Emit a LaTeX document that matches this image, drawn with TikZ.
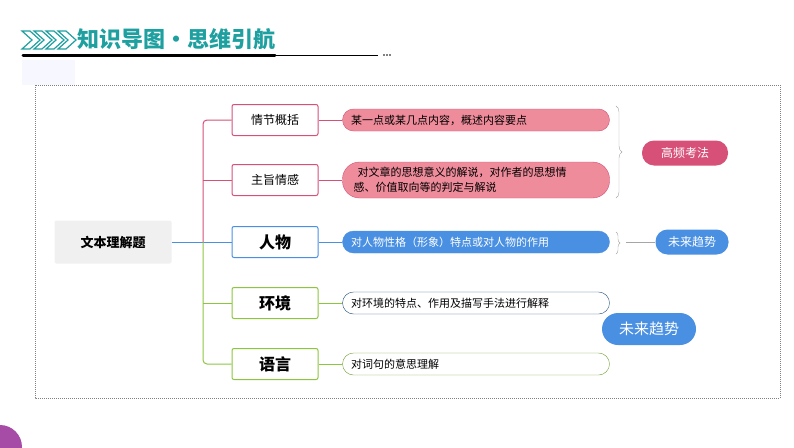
\documentclass[tikz,border=0pt]{standalone}
\usepackage{fontspec}
\setmainfont{Noto Sans CJK SC}
\usetikzlibrary{decorations.pathreplacing}
\definecolor{teal1}{HTML}{1FA0A0}
\definecolor{pinkline}{HTML}{D65078}
\definecolor{pinkfill}{HTML}{EE8C9B}
\definecolor{blueline}{HTML}{4A90E2}
\definecolor{greenline}{HTML}{8CC63F}
\definecolor{navyline}{HTML}{1F4E79}
\tikzset{
  branch/.style={draw=#1,line width=1pt,fill=white,rounded corners=2pt,minimum width=86pt,minimum height=31pt,font=\fontsize{12}{14}\selectfont},
  bigbranch/.style={branch=#1,font=\fontsize{16}{18}\selectfont\bfseries},
  pill/.style={rounded corners=11pt,minimum width=267pt,minimum height=22pt,text width=250pt,align=left,font=\fontsize{11}{15}\selectfont,inner sep=2pt},
  tag/.style={rounded corners=12pt,text=white,font=\fontsize{12}{14}\selectfont,minimum height=25pt},
}
\begin{document}
\begin{tikzpicture}[x=1pt,y=-1pt]
\useasboundingbox (0,0) rectangle (794,447);
% header
\foreach \i in {0,12,24,36} \draw[teal1,line width=1.2pt] (22+\i,31) -- (32+\i,40) -- (22+\i,49) -- (30+\i,49) -- (40+\i,40) -- (30+\i,31) -- cycle;
\node[anchor=west,text=teal1,font=\fontsize{22}{24}\selectfont\bfseries,inner sep=0pt] (title) at (77,39) {知识导图·思维引航};
\draw[line width=3pt,line cap=round] (23,55) -- (275,55);
\draw[line width=0.5pt] (275,55) -- (378,55);
\foreach \i in {0,3,6} \fill (384+\i,55) circle (0.9pt);
\fill[blue!3] (22,60) rectangle (75,85);
\fill[violet!70] (0,447) circle (22pt);
% frame
\draw[gray,dash pattern=on 1pt off 1pt] (35,85) rectangle (780,398);
% root
\node[fill=gray!12,rounded corners=2pt,minimum width=117pt,minimum height=43pt,font=\fontsize{13}{15}\selectfont\bfseries] (root) at (113,242) {文本理解题};
% branches
\node[branch=pinkline] (plot) at (275,120) {情节概括};
\node[branch=pinkline] (theme) at (275,180) {主旨情感};
\node[bigbranch=blueline] (char) at (275,242) {人物};
\node[bigbranch=greenline] (env) at (275,303) {环境};
\node[bigbranch=greenline] (lang) at (275,364) {语言};
% connectors
\draw[blueline,line width=1pt] (root.east) -- (char.west);
\draw[pinkline,line width=1pt,rounded corners=4pt] (203,242) -- (203,120) -- (plot.west);
\draw[pinkline,line width=1pt] (203,180) -- (theme.west);
\draw[greenline,line width=1pt,rounded corners=4pt] (203,242) -- (203,364) -- (lang.west);
\draw[greenline,line width=1pt] (203,303) -- (env.west);
% details
\node[pill,fill=pinkfill,draw=pinkline] (d1) at (476,120) {某一点或某几点内容，概述内容要点};
\node[pill,fill=pinkfill,draw=pinkline,minimum height=36pt,rounded corners=17pt,text width=245pt] (d2) at (476,180) {\hspace*{4pt}对文章的思想意义的解说，对作者的思想情\\感、价值取向等的判定与解说};
\node[pill,fill=blueline,draw=blueline,text=white] (d3) at (476,242) {对人物性格（形象）特点或对人物的作用};
\node[pill,fill=white,draw=navyline] (d4) at (476,303) {对环境的特点、作用及描写手法进行解释};
\node[pill,fill=white,draw=greenline!80!black] (d5) at (476,364) {对词句的意思理解};
\foreach \a/\b/\c in {plot/d1/pinkline,theme/d2/pinkline,char/d3/blueline,env/d4/greenline,lang/d5/greenline}
  \draw[\c,line width=0.6pt] (\a.east) -- (\b.west);
% braces and tags
\draw[gray!70,decorate,decoration={brace,amplitude=6pt}] (616,106) -- (616,198);
\draw[gray!70,decorate,decoration={brace,amplitude=4pt}] (616,232) -- (616,254);
\node[tag,fill=pinkline,minimum width=86pt] (hot) at (685,153) {高频考法};
\node[tag,fill=blueline,minimum width=73pt] (trend) at (692,242) {未来趋势};
\node[tag,fill=blueline,minimum width=94pt,minimum height=32pt,rounded corners=16pt,font=\fontsize{15}{17}\selectfont] (trend2) at (649,329) {未来趋势};
\draw[gray!70,line width=0.5pt] (626,242) -- (trend.west);
\end{tikzpicture}
\end{document}
